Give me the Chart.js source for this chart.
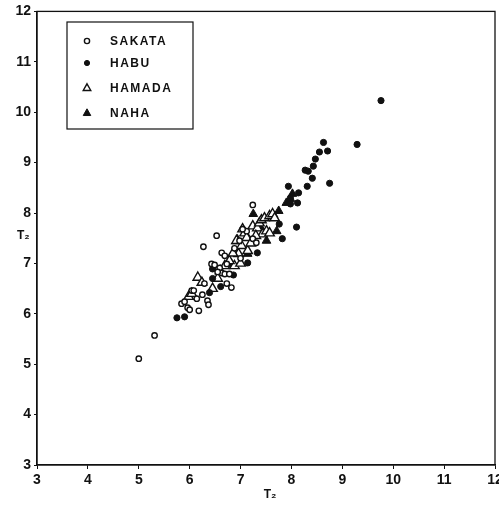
<!DOCTYPE html>
<html>
<head>
<meta charset="utf-8">
<script src="https://cdn.jsdelivr.net/npm/chart.js@4.4.0/dist/chart.umd.min.js"></script>
<style>
  html, body { margin: 0; padding: 0; background: #fff; overflow: hidden; }
  #wrap { position: relative; width: 499px; height: 506px; }
  #chart { display: block; }
</style>
</head>
<body>
<div id="wrap"><canvas id="chart"></canvas></div>
<script>
// T2 comparison, four stations
const tickValues = [3, 4, 5, 6, 7, 8, 9, 10, 11, 12];

const sakataX = [5.00, 5.31, 5.84, 5.90, 5.96, 6.00, 6.14, 6.18, 6.25, 6.35, 6.37, 6.04, 6.08, 6.29, 6.53, 6.27, 6.63, 6.69, 6.43, 6.49, 6.59, 6.73, 6.63, 6.69, 6.78, 6.82, 6.73, 7.24, 7.12, 7.04, 7.24, 6.98, 7.31, 6.55, 6.88, 7.00];
const sakataY = [5.11, 5.57, 6.20, 6.24, 6.12, 6.08, 6.30, 6.06, 6.38, 6.26, 6.18, 6.46, 6.46, 6.60, 7.55, 7.33, 7.21, 7.15, 6.99, 6.97, 6.91, 6.99, 6.81, 6.79, 6.79, 6.52, 6.60, 8.16, 7.64, 7.68, 7.49, 7.45, 7.41, 6.83, 7.30, 7.10];

const habuX = [5.75, 5.90, 6.39, 6.61, 6.45, 6.45, 7.14, 6.86, 7.33, 7.76, 8.10, 7.82, 7.94, 8.14, 7.98, 7.98, 8.12, 8.31, 8.41, 8.27, 8.33, 8.43, 8.47, 8.55, 8.71, 8.63, 9.29, 9.76, 8.75];
const habuY = [5.92, 5.94, 6.42, 6.54, 6.89, 6.70, 7.01, 6.77, 7.21, 7.78, 7.72, 7.49, 8.53, 8.40, 8.30, 8.18, 8.20, 8.53, 8.69, 8.85, 8.83, 8.93, 9.07, 9.21, 9.23, 9.40, 9.36, 10.23, 8.59];

const hamadaX = [5.98, 6.04, 6.16, 6.24, 6.45, 6.55, 6.69, 6.88, 6.94, 6.96, 7.02, 7.04, 7.08, 7.12, 7.24, 7.33, 7.37, 7.41, 7.47, 7.57, 7.63, 7.43, 7.51, 7.57, 6.92, 6.78, 7.14, 7.20, 7.30, 6.60, 6.85, 7.00, 7.67];
const hamadaY = [6.34, 6.40, 6.72, 6.62, 6.50, 6.70, 6.95, 6.95, 7.45, 7.19, 7.35, 7.68, 7.60, 7.51, 7.74, 7.70, 7.80, 7.86, 7.90, 7.94, 7.98, 7.58, 7.64, 7.60, 7.45, 7.05, 7.25, 7.40, 7.55, 6.85, 7.20, 7.00, 7.90];

const nahaX = [7.25, 7.75, 8.02, 7.98, 7.71, 7.51, 7.14, 6.82, 7.90, 7.40];
const nahaY = [7.98, 8.04, 8.38, 8.28, 7.64, 7.45, 7.19, 6.99, 8.20, 7.70];

const stationNames = ['SAKATA', 'HABU', 'HAMADA', 'NAHA'];

const toPoints = (xs, ys) => xs.map((x, i) => ({ x: x, y: ys[i] }));

const INK = '#111';
const FONT = '"Liberation Sans", Arial, sans-serif';
const PLOT_RIGHT = 495;

const datasets = [
    {
        label: stationNames[0],
        data: toPoints(sakataX, sakataY),
        pointStyle: 'circle', pointRadius: 2.7,
        backgroundColor: '#fff', borderColor: INK, borderWidth: 1.4
    },
    {
        label: stationNames[1],
        data: toPoints(habuX, habuY),
        pointStyle: 'circle', pointRadius: 3.1,
        backgroundColor: INK, borderColor: INK, borderWidth: 1
    },
    {
        label: stationNames[2],
        data: toPoints(hamadaX, hamadaY),
        pointStyle: 'triangle', pointRadius: 5.5,
        backgroundColor: '#fff', borderColor: INK, borderWidth: 1.4
    },
    {
        label: stationNames[3],
        data: toPoints(nahaX, nahaY),
        pointStyle: 'triangle', pointRadius: 5,
        backgroundColor: INK, borderColor: INK, borderWidth: 1
    }
];

// frame, axis titles and the boxed key
const decorations = {
    id: 'decorations',
    afterDraw(chart) {
        const ctx = chart.ctx;
        const a = chart.chartArea;
        ctx.save();
        ctx.strokeStyle = INK;
        ctx.lineWidth = 1.3;
        ctx.strokeRect(a.left, a.top, a.right - a.left, a.bottom - a.top);

        // axis titles
        ctx.fillStyle = INK;
        ctx.font = 'bold 12px ' + FONT;
        ctx.textAlign = 'left';
        ctx.textBaseline = 'middle';
        ctx.fillText('T\u2082', 17, 236);
        ctx.textAlign = 'center';
        ctx.fillText('T\u2082', 270, 495);

        // key
        const bx = 67, by = 22, bw = 126, bh = 107;
        ctx.lineWidth = 1.2;
        ctx.strokeRect(bx, by, bw, bh);
        ctx.font = 'bold 12px ' + FONT;
        ctx.textAlign = 'left';
        ctx.letterSpacing = '1.5px';
        const rows = [41, 63, 88, 113];
        chart.data.datasets.forEach((ds, i) => {
            const cy = rows[i];
            const cx = 87;
            ctx.beginPath();
            if (ds.pointStyle === 'circle') {
                ctx.arc(cx, cy, 2.6, 0, Math.PI * 2);
            } else {
                const r = 4.2;
                ctx.moveTo(cx, cy - r);
                ctx.lineTo(cx + r * 0.9, cy + r * 0.6);
                ctx.lineTo(cx - r * 0.9, cy + r * 0.6);
                ctx.closePath();
            }
            ctx.fillStyle = ds.backgroundColor;
            ctx.fill();
            ctx.lineWidth = ds.borderWidth;
            ctx.strokeStyle = INK;
            ctx.stroke();
            ctx.fillStyle = INK;
            ctx.fillText(ds.label, 110, cy + 1);
        });
        ctx.restore();
    }
};

const chart = new Chart(document.getElementById('chart'), {
    type: 'scatter',
    data: { datasets: datasets },
    options: {
        responsive: true,
        maintainAspectRatio: false,
        animation: false,
        layout: { autoPadding: false, padding: { top: 10, right: 4, left: 0, bottom: 0 } },
        plugins: {
            legend: { display: false },
            tooltip: { enabled: false }
        },
        scales: {
            x: {
                type: 'linear',
                min: tickValues[0],
                max: tickValues[tickValues.length - 1],
                afterBuildTicks: (scale) => { scale.ticks = tickValues.map(v => ({ value: v })); },
                afterFit: (scale) => {
                    scale.height = 41;
                    scale.paddingLeft = 0;
                    scale.paddingRight = 0;
                },
                grid: { drawOnChartArea: false, drawTicks: true, tickLength: 4, color: INK },
                border: { display: true, color: INK, width: 1.3 },
                ticks: { color: INK, font: { family: FONT, size: 14, weight: 'bold' }, padding: 3, maxRotation: 0 }
            },
            y: {
                type: 'linear',
                min: tickValues[0],
                max: tickValues[tickValues.length - 1],
                afterBuildTicks: (scale) => { scale.ticks = tickValues.map(v => ({ value: v })); },
                afterFit: (scale) => { scale.width = 37; },
                grid: { drawOnChartArea: false, drawTicks: true, tickLength: 3, color: INK },
                border: { display: true, color: INK, width: 1.3 },
                ticks: { color: INK, font: { family: FONT, size: 14, weight: 'bold' }, padding: 3 }
            }
        }
    },
    plugins: [decorations]
});

// the "12" label still eats into the right margin, so nudge the padding once
const drift = chart.chartArea.right - PLOT_RIGHT;
if (Math.abs(drift) > 0.5) {
    chart.options.layout.padding.right += drift;
    chart.update();
}
</script>
</body>
</html>
